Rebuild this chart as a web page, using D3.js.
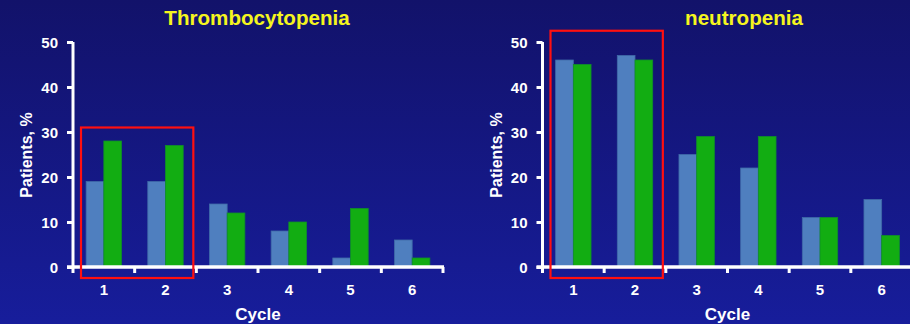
<!DOCTYPE html>
<html>
<head>
<meta charset="utf-8">
<script src="https://cdn.jsdelivr.net/npm/d3@7"></script>
<style>
  html, body { margin: 0; padding: 0; background: #13156f; }
  svg { display: block; }
  text { font-family: "Liberation Sans", Arial, sans-serif; font-weight: bold; }
</style>
</head>
<body>
<svg id="chart" width="910" height="324"></svg>
<script>
// Grade 3/4 toxicity by treatment cycle
const cycles = ["1", "2", "3", "4", "5", "6"];
const yTicks = [0, 10, 20, 30, 40, 50];

const thromboBlue  = [19, 19, 14, 8, 2, 6];
const thromboGreen = [28, 27, 12, 10, 13, 2];

const neutroBlue  = [46, 47, 25, 22, 11, 15];
const neutroGreen = [45, 46, 29, 29, 11, 7];

const panels = [
  { title: "Thrombocytopenia", blue: thromboBlue, green: thromboGreen, x0: 73,  x1: 443, axisEnd: 444, titleX: 257, box: { c0: 0, c1: 1, top: 31 } },
  { title: "neutropenia",      blue: neutroBlue,  green: neutroGreen,  x0: 542.5, x1: 912.5, axisEnd: 910, titleX: 744, box: { c0: 0, c1: 1, top: 52.5 } }
];

const svg = d3.select("#chart");

// background gradient
const defs = svg.append("defs");
const grad = defs.append("linearGradient").attr("id", "bg").attr("x1", 0).attr("y1", 0).attr("x2", 0).attr("y2", 1);
grad.append("stop").attr("offset", "0%").attr("stop-color", "#12126a");
grad.append("stop").attr("offset", "100%").attr("stop-color", "#171d9b");
svg.append("rect").attr("width", 910).attr("height", 324).attr("fill", "url(#bg)");

const y = d3.scaleLinear().domain([0, 50]).range([267, 42]);

panels.forEach(p => {
  const g = svg.append("g");
  const x = d3.scaleBand().domain(cycles).range([p.x0, p.x1]).paddingInner(0).paddingOuter(0);
  const bw = x.bandwidth() * 0.287;

  // bars
  const series = [
    { vals: p.blue,  color: "#4f7fbf", stroke: "#3f6aa8", off: -bw },
    { vals: p.green, color: "#12ad12", stroke: "#0f8f2a", off: 0 }
  ];
  series.forEach(s => {
    g.selectAll(null).data(cycles).enter().append("rect")
      .attr("x", d => x(d) + x.bandwidth() / 2 + s.off)
      .attr("y", (d, i) => y(s.vals[i]))
      .attr("width", bw)
      .attr("height", (d, i) => y(0) - y(s.vals[i]))
      .attr("fill", s.color)
      .attr("stroke", s.stroke)
      .attr("stroke-width", 0.8);
  });

  // y axis
  const yAxis = d3.axisLeft(y).tickValues(yTicks).tickSize(6).tickPadding(9).tickSizeOuter(0);
  const ya = g.append("g").attr("transform", `translate(${p.x0},0)`).call(yAxis);
  ya.select(".domain").attr("stroke", "#fff").attr("stroke-width", 3).attr("d", `M0,${y(50)}V${y(0) + 6}`);
  ya.selectAll(".tick line").attr("stroke", "#fff").attr("stroke-width", 3);
  ya.selectAll(".tick text").attr("fill", "#fff").attr("font-size", 15).attr("dy", "0.35em");

  // x axis line and ticks at band boundaries
  g.append("line").attr("x1", p.x0 - 6).attr("x2", p.axisEnd).attr("y1", y(0)).attr("y2", y(0))
    .attr("stroke", "#fff").attr("stroke-width", 3.5);
  const bounds = cycles.map(c => x(c) + x.bandwidth()).filter(v => v <= p.axisEnd);
  g.selectAll(null).data(bounds).enter().append("line")
    .attr("x1", d => d).attr("x2", d => d).attr("y1", y(0)).attr("y2", y(0) + 6)
    .attr("stroke", "#fff").attr("stroke-width", 3);

  // x tick labels
  g.selectAll(null).data(cycles).enter().append("text")
    .attr("x", d => x(d) + x.bandwidth() / 2)
    .attr("y", 295)
    .attr("text-anchor", "middle")
    .attr("fill", "#fff").attr("font-size", 15)
    .text(d => d);

  // axis titles
  g.append("text").attr("x", p.x0 + 185).attr("y", 320).attr("text-anchor", "middle")
    .attr("fill", "#fff").attr("font-size", 17).text("Cycle");
  g.append("text").attr("transform", `translate(${p.x0 - 41},155) rotate(-90)`)
    .attr("text-anchor", "middle").attr("fill", "#fff").attr("font-size", 16).text("Patients, %");

  // chart title
  g.append("text").attr("x", p.titleX).attr("y", 25).attr("text-anchor", "middle")
    .attr("fill", "#f5f51e").attr("font-size", 20.6).text(p.title);

  // highlight box around cycles 1-2
  const bx0 = x(cycles[p.box.c0]) + 8;
  const bx1 = x(cycles[p.box.c1]) + x.bandwidth() - 3;
  g.append("rect").attr("x", bx0).attr("y", y(p.box.top))
    .attr("width", bx1 - bx0).attr("height", 278 - y(p.box.top))
    .attr("fill", "none").attr("stroke", "#ff1010").attr("stroke-width", 2.2);
});
</script>
</body>
</html>
